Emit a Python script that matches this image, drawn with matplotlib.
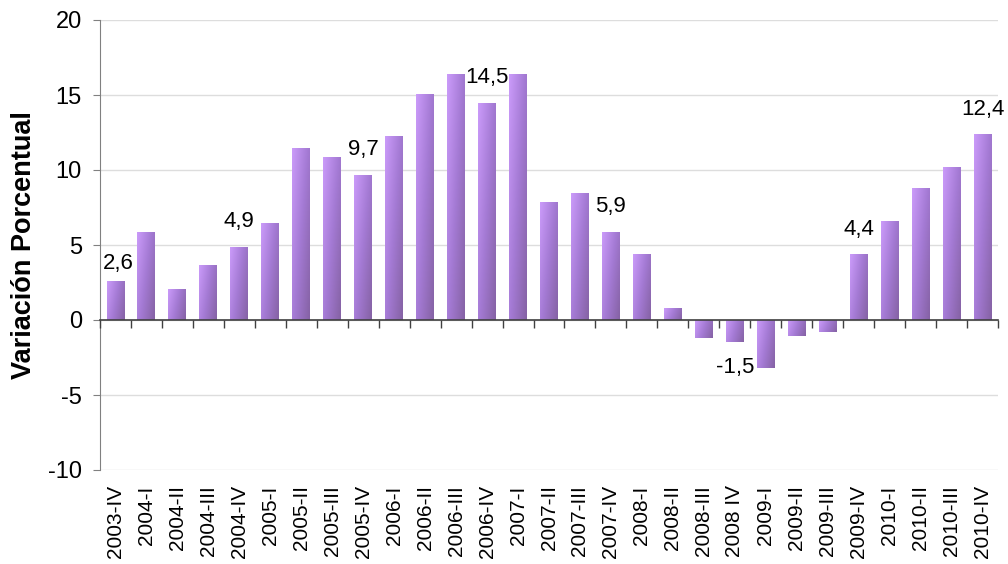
import numpy as np
import matplotlib.pyplot as plt
from matplotlib.colors import LinearSegmentedColormap

# Quarterly percentage change, 2003-IV to 2010-IV
quarters = [
    "2003-IV", "2004-I", "2004-II", "2004-III", "2004-IV",
    "2005-I", "2005-II", "2005-III", "2005-IV",
    "2006-I", "2006-II", "2006-III", "2006-IV",
    "2007-I", "2007-II", "2007-III", "2007-IV",
    "2008-I", "2008-II", "2008-III", "2008 IV",
    "2009-I", "2009-II", "2009-III", "2009-IV",
    "2010-I", "2010-II", "2010-III", "2010-IV",
]
variacion = [
    2.6, 5.9, 2.1, 3.7, 4.9,
    6.5, 11.5, 10.9, 9.7,
    12.3, 15.1, 16.4, 14.5,
    16.4, 7.9, 8.5, 5.9,
    4.4, 0.8, -1.2, -1.5,
    -3.2, -1.1, -0.8, 4.4,
    6.6, 8.8, 10.2, 12.4,
]
# bars that carry a value label
labelled = ["2003-IV", "2004-IV", "2005-IV", "2006-IV", "2007-IV",
            "2008 IV", "2009-IV", "2010-IV"]
yticks = [-10, -5, 0, 5, 10, 15, 20]

# label offsets in points (dx, dy)
label_offsets = {"2003-IV": (2, 12.5)}

plt.rcParams['font.family'] = ['Liberation Sans', 'DejaVu Sans']

fig = plt.figure(figsize=(10.08, 5.64), dpi=100)
ax = fig.add_axes([100 / 1008, 1 - 470 / 564, 898 / 1008, 450 / 564])

x = np.arange(len(quarters))

bars = ax.bar(x, variacion, width=0.58, color='none', edgecolor='none', zorder=3)

# diagonal shading, light at the top-left corner, dark at the bottom-right
cmap = LinearSegmentedColormap.from_list("lila", ["#CB9BFA", "#A47AD4", "#8562A4"])
gx, gy = np.meshgrid(np.linspace(0, 1, 40), np.linspace(0, 1, 200))
for bar, v in zip(bars, variacion):
    bx, bw = bar.get_x(), bar.get_width()
    top, bottom = max(v, 0), min(v, 0)
    h = abs(v)
    grad = 0.55 * gx + 0.45 * gy * min(1.0, 0.3 + h / 12)
    grad = grad / grad.max()
    im = ax.imshow(grad, cmap=cmap, extent=(bx, bx + bw, bottom, top),
                   origin='upper', aspect='auto', zorder=3, interpolation='bilinear')
    im.set_clip_path(bar)

ax.set_aspect('auto')
ax.set_xlim(-0.5, len(quarters) - 0.5)
ax.set_ylim(-10, 20)

# value labels
for q, v, xi in zip(quarters, variacion, x):
    if q not in labelled:
        continue
    dx, dy = label_offsets.get(q, (0, 18))
    if v < 0:
        dy = -dy
    ax.annotate(f"{v:.1f}".replace(".", ","), (xi, v), xytext=(dx, dy),
                textcoords='offset points', ha='center', va='center',
                fontsize=16, color='black', zorder=5)

# grid and spines
ax.set_yticks(yticks)
ax.set_yticklabels([str(t) for t in yticks], fontsize=17)
ax.yaxis.grid(True, color='#DDDDDD', linewidth=1.0, zorder=0)
ax.set_axisbelow(True)
for side in ['top', 'right', 'bottom']:
    ax.spines[side].set_visible(False)
ax.spines['left'].set_color('#808080')
ax.tick_params(axis='y', direction='out', length=5, color='#808080', pad=8)

# category labels along the bottom edge
ax.set_xticks(x)
ax.set_xticklabels(quarters, rotation=90, fontsize=15)
ax.tick_params(axis='x', length=0, pad=11)

# zero line with tick marks at category boundaries
zero_pos = (0 - (-10)) / (20 - (-10))
sec = ax.secondary_xaxis(zero_pos)
sec.set_xticks(np.arange(len(quarters) + 1) - 0.5)
sec.set_xticklabels([])
sec.spines['bottom'].set_color('#404040')
sec.spines['bottom'].set_linewidth(1.2)
sec.tick_params(axis='x', direction='out', length=6, color='#404040', width=1.0)
for side in ['top', 'left', 'right']:
    sec.spines[side].set_visible(False)
sec.set_zorder(4)

ax.set_ylabel("Variación Porcentual", fontsize=19.5, fontweight='bold', labelpad=8)

fig.savefig("out.png", dpi=100)
